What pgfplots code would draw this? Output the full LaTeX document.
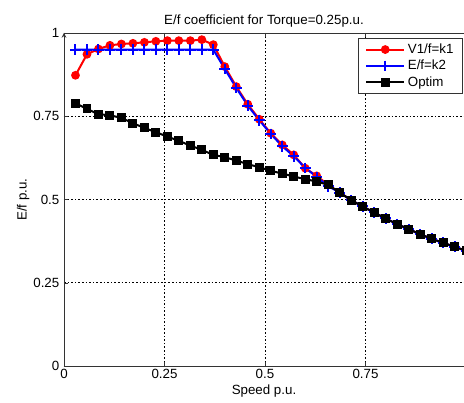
\documentclass[border=0pt]{standalone}
\usepackage{fontspec}
\setmainfont{Liberation Sans}
\usepackage{pgfplots}
\pgfplotsset{compat=1.18}
\pgfplotstableread{
x y
0.02857 0.873
0.05714 0.936
0.08571 0.952
0.11429 0.963
0.14286 0.967
0.17143 0.969
0.20000 0.972
0.22857 0.975
0.25714 0.977
0.28571 0.977
0.31429 0.977
0.34286 0.980
0.37143 0.965
0.40000 0.899
0.42857 0.839
0.45714 0.786
0.48571 0.741
0.51429 0.699
0.54286 0.664
0.57143 0.634
0.60000 0.594
0.62857 0.571
0.65714 0.544
0.68571 0.521
0.71429 0.498
0.74286 0.479
0.77143 0.461
0.80000 0.443
0.82857 0.426
0.85714 0.411
0.88571 0.396
0.91429 0.382
0.94286 0.370
0.97143 0.358
1.00000 0.346
}\redtab
\pgfplotstableread{
x y
0.02857 0.950
0.05714 0.950
0.08571 0.950
0.11429 0.950
0.14286 0.950
0.17143 0.950
0.20000 0.950
0.22857 0.950
0.25714 0.950
0.28571 0.950
0.31429 0.950
0.34286 0.950
0.37143 0.950
0.40000 0.892
0.42857 0.835
0.45714 0.782
0.48571 0.738
0.51429 0.697
0.54286 0.660
0.57143 0.630
0.60000 0.595
0.62857 0.568
0.65714 0.540
0.68571 0.521
0.71429 0.498
0.74286 0.479
0.77143 0.461
0.80000 0.443
0.82857 0.426
0.85714 0.411
0.88571 0.396
0.91429 0.382
0.94286 0.370
0.97143 0.358
1.00000 0.346
}\bluetab
\pgfplotstableread{
x y
0.02857 0.789
0.05714 0.772
0.08571 0.756
0.11429 0.753
0.14286 0.745
0.17143 0.729
0.20000 0.715
0.22857 0.702
0.25714 0.689
0.28571 0.676
0.31429 0.662
0.34286 0.649
0.37143 0.634
0.40000 0.627
0.42857 0.617
0.45714 0.606
0.48571 0.597
0.51429 0.586
0.54286 0.578
0.57143 0.569
0.60000 0.561
0.62857 0.554
0.65714 0.544
0.68571 0.521
0.71429 0.498
0.74286 0.479
0.77143 0.461
0.80000 0.443
0.82857 0.426
0.85714 0.411
0.88571 0.396
0.91429 0.382
0.94286 0.370
0.97143 0.358
1.00000 0.346
}\blacktab
\begin{document}
\begin{tikzpicture}
\begin{axis}[
  name=ax,
  scale only axis,
  width=300pt, height=249.75pt,
  xmin=0, xmax=0.995, ymin=0, ymax=1,
  axis x line=box, axis y line=left,
  axis line style={black!80, line width=0.6pt},
  xtick={0,0.25,0.5,0.75}, ytick={0,0.25,0.5,0.75,1},
  tick align=inside, major tick length=3pt,
  tick style={black!80},
  /pgf/number format/assume math mode=true,
  ticklabel style={font=\normalsize},
  xticklabel style={yshift=1pt},
  grid=major,
  major grid style={black, line width=0.5pt, dash pattern=on 1.2pt off 1.5pt},
  title={E/f coefficient for Torque=0.25p.u.},
  title style={yshift=-5pt},
  xlabel={Speed p.u.}, ylabel={E/f p.u.},
  xlabel style={yshift=2pt},
  ylabel style={yshift=-4pt},
  clip=false,
  legend style={at={(0.998,0.985)}, anchor=north east, draw=black!80, line width=0.6pt,
    font=\normalsize, row sep=-0.5pt, inner xsep=5pt, inner ysep=2pt},
  legend cell align=left,
  legend image code/.code={\draw[mark repeat=2,mark phase=2] plot coordinates {(0cm,0cm) (0.5cm,0cm) (1.0cm,0cm)};},
]
\addplot[red, line width=1.5pt, mark=*, mark size=2.5pt] table {\redtab};
\addlegendentry{V1/f=k1}
\addplot[blue, line width=1.5pt, mark=+, mark size=4pt, mark options={line width=1.5pt}] table {\bluetab};
\addlegendentry{E/f=k2}
\addplot[black, line width=1.5pt, mark=square*, mark size=2.6pt] table {\blacktab};
\addlegendentry{Optim}
\end{axis}
\pgfresetboundingbox
\path[use as bounding box] ([shift={(-48pt,-27.75pt)}]ax.south west) rectangle ([shift={(0pt,24.75pt)}]ax.north east);
\end{tikzpicture}
\end{document}
